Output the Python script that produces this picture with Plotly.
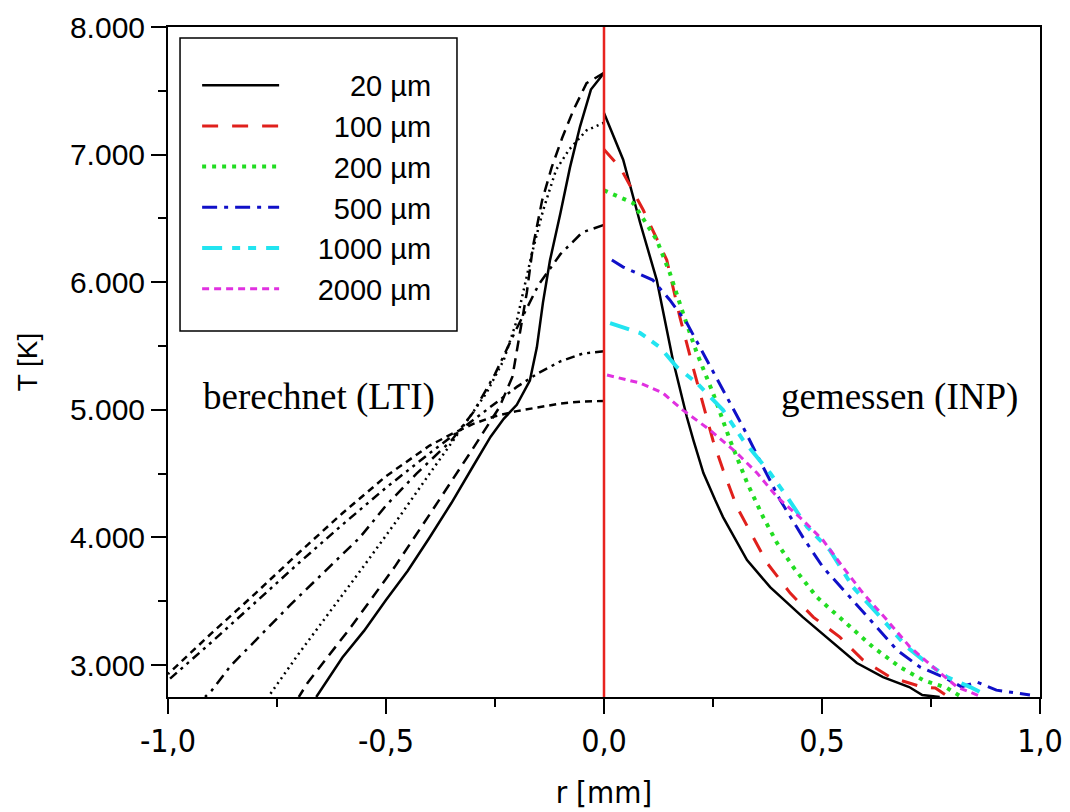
import plotly.graph_objects as go

# ---------------- data ----------------
# measured (INP), right half, r in mm, T in K
R_INP_20 = [0.0, 0.044, 0.083, 0.121, 0.158, 0.19, 0.205, 0.228, 0.255, 0.273, 0.328, 0.381, 0.456, 0.518, 0.58, 0.64, 0.70, 0.73, 0.77]
T_INP_20 = [7326, 6960, 6464, 6017, 5390, 4944, 4763, 4505, 4293, 4160, 3823, 3611, 3376, 3196, 3016, 2906, 2828, 2765, 2750]

R_INP_100 = [0.0, 0.037, 0.09, 0.144, 0.174, 0.204, 0.25, 0.273, 0.305, 0.342, 0.374, 0.427, 0.48, 0.541, 0.594, 0.656, 0.73, 0.76, 0.79]
T_INP_100 = [7040, 6900, 6566, 6174, 5727, 5335, 4760, 4530, 4238, 4003, 3800, 3564, 3376, 3219, 3039, 2906, 2828, 2820, 2750]

R_INP_200 = [0.0, 0.067, 0.121, 0.151, 0.181, 0.213, 0.25, 0.289, 0.328, 0.365, 0.397, 0.434, 0.488, 0.548, 0.617, 0.679, 0.732, 0.787, 0.82]
T_INP_200 = [6720, 6620, 6331, 6072, 5759, 5445, 5132, 4763, 4430, 4160, 3956, 3768, 3533, 3353, 3141, 2984, 2882, 2820, 2750]

R_INP_500 = [0.018, 0.044, 0.112, 0.151, 0.19, 0.227, 0.273, 0.319, 0.365, 0.404, 0.456, 0.502, 0.564, 0.617, 0.672, 0.725, 0.778, 0.82, 0.855, 0.90, 0.977]
T_INP_500 = [6174, 6119, 6017, 5861, 5680, 5445, 5155, 4865, 4552, 4293, 4003, 3768, 3533, 3329, 3118, 2984, 2906, 2830, 2867, 2804, 2765]

R_INP_1000 = [0.014, 0.083, 0.128, 0.167, 0.213, 0.273, 0.319, 0.381, 0.42, 0.466, 0.518, 0.571, 0.626, 0.695, 0.741, 0.787, 0.84, 0.88]
T_INP_1000 = [5680, 5602, 5492, 5335, 5210, 4998, 4763, 4505, 4317, 4082, 3901, 3611, 3407, 3141, 3016, 2906, 2828, 2760]

R_INP_2000 = [0.007, 0.083, 0.135, 0.181, 0.243, 0.305, 0.351, 0.397, 0.456, 0.502, 0.548, 0.594, 0.649, 0.702, 0.755, 0.81, 0.86]
T_INP_2000 = [5273, 5210, 5132, 4998, 4842, 4661, 4505, 4317, 4136, 3980, 3768, 3564, 3353, 3141, 2984, 2828, 2760]

# calculated (LTI), left half
R_LTI_20 = [0.0, -0.03, -0.055, -0.078, -0.10, -0.124, -0.14, -0.154, -0.17, -0.2, -0.23, -0.26, -0.3, -0.35, -0.4, -0.45, -0.5, -0.55, -0.6, -0.65, -0.66]
T_LTI_20 = [7640, 7510, 7220, 6900, 6540, 6170, 5840, 5490, 5230, 5040, 4930, 4790, 4560, 4270, 4000, 3740, 3510, 3270, 3060, 2810, 2750]

R_LTI_100 = [0.0, -0.04, -0.07, -0.096, -0.12, -0.142, -0.163, -0.177, -0.193, -0.21, -0.24, -0.3, -0.4, -0.48, -0.58, -0.68, -0.70]
T_LTI_100 = [7640, 7560, 7350, 7130, 6900, 6640, 6280, 5920, 5600, 5260, 5020, 4700, 4180, 3770, 3300, 2860, 2750]

R_LTI_200 = [0.0, -0.04, -0.08, -0.11, -0.14, -0.165, -0.2, -0.23, -0.27, -0.3, -0.35, -0.4, -0.48, -0.55, -0.62, -0.7, -0.76, -0.77]
T_LTI_200 = [7250, 7190, 7040, 6880, 6560, 6230, 5700, 5390, 5130, 4980, 4740, 4500, 4110, 3780, 3460, 3090, 2800, 2750]

R_LTI_500 = [0.0, -0.05, -0.1, -0.15, -0.2, -0.25, -0.3, -0.35, -0.43, -0.5, -0.56, -0.65, -0.72, -0.8, -0.855, -0.9, -0.915]
T_LTI_500 = [6450, 6390, 6220, 5980, 5640, 5280, 4980, 4760, 4500, 4250, 4000, 3700, 3470, 3190, 3000, 2800, 2750]

R_LTI_1000 = [0.0, -0.05, -0.1, -0.15, -0.2, -0.25, -0.3, -0.35, -0.4, -0.5, -0.6, -0.7, -0.8, -0.9, -1.0]
T_LTI_1000 = [5460, 5440, 5380, 5290, 5180, 5050, 4920, 4790, 4660, 4390, 4100, 3800, 3490, 3180, 2880]

R_LTI_2000 = [0.0, -0.05, -0.1, -0.15, -0.2, -0.25, -0.3, -0.35, -0.4, -0.5, -0.6, -0.7, -0.8, -0.9, -1.0]
T_LTI_2000 = [5070, 5065, 5050, 5020, 4990, 4950, 4890, 4810, 4720, 4480, 4190, 3880, 3560, 3250, 2930]

SERIES_LABELS = ["20 µm", "100 µm", "200 µm", "500 µm", "1000 µm", "2000 µm"]

X_TICKS = [-1.0, -0.5, 0.0, 0.5, 1.0]
X_TICK_TEXT = ["-1,0", "-0,5", "0,0", "0,5", "1,0"]
X_MINOR = [-0.75, -0.25, 0.25, 0.75]
Y_TICKS = [3000, 4000, 5000, 6000, 7000, 8000]
Y_TICK_TEXT = ["3.000", "4.000", "5.000", "6.000", "7.000", "8.000"]
Y_MINOR = [3500, 4500, 5500, 6500, 7500]

# ---------------- styles ----------------
inp = [
    (R_INP_20, T_INP_20, "#000000", "solid", 2.5),
    (R_INP_100, T_INP_100, "#e0201c", "16px,14px", 3),
    (R_INP_200, T_INP_200, "#22dd22", "4px,6px", 4),
    (R_INP_500, T_INP_500, "#1010c8", "15px,7px,4px,7px", 3),
    (R_INP_1000, T_INP_1000, "#22e4f0", "20px,10px,8px,8px,8px,10px", 4),
    (R_INP_2000, T_INP_2000, "#e030e0", "7px,5px", 3),
]
lti = [
    (R_LTI_20, T_LTI_20, "solid"),
    (R_LTI_100, T_LTI_100, "11px,7px"),
    (R_LTI_200, T_LTI_200, "2px,4px"),
    (R_LTI_500, T_LTI_500, "11px,6px,3px,6px"),
    (R_LTI_1000, T_LTI_1000, "9px,5px,3px,5px,3px,5px"),
    (R_LTI_2000, T_LTI_2000, "7px,5px"),
]

FS = "\u2007"  # figure space (digit width)
PAD = "\u2007\u2009\u2009\u2009"

fig = go.Figure()
for (r, t, dash) in lti:
    fig.add_trace(go.Scatter(x=r, y=t, mode="lines", showlegend=False,
                             line=dict(color="black", width=2.5, dash=dash)))

for i, (r, t, col, dash, w) in enumerate(inp):
    lab = SERIES_LABELS[i]
    ndig = len(lab.split(" ")[0])
    name = PAD + FS * (4 - ndig) + lab
    fig.add_trace(go.Scatter(x=r, y=t, mode="lines", name=name,
                             line=dict(color=col, width=w, dash=dash)))

# red centre line
fig.add_shape(type="line", xref="x", yref="paper", x0=0, x1=0, y0=0, y1=1,
              line=dict(color="#e8231f", width=2.5))
# legend frame
fig.add_shape(type="rect", xref="paper", yref="paper",
              x0=0.0138, x1=0.3314, y0=0.5463, y1=0.9836,
              line=dict(color="black", width=1.5), fillcolor="rgba(0,0,0,0)")

fig.add_annotation(x=-0.654, y=5100, text="berechnet (LTI)", showarrow=False,
                   font=dict(family="Liberation Serif, Times New Roman, serif", size=37, color="black"))
fig.add_annotation(x=0.677, y=5100, text="gemessen (INP)", showarrow=False,
                   font=dict(family="Liberation Serif, Times New Roman, serif", size=37, color="black"))

axis_common = dict(showline=True, linecolor="black", linewidth=2, mirror=True,
                   showgrid=False, zeroline=False, ticks="outside", tickcolor="black",
                   tickwidth=2, ticklen=15)

fig.update_xaxes(range=[-1, 1], tickmode="array", tickvals=X_TICKS, ticktext=X_TICK_TEXT,
                 minor=dict(tickmode="array", tickvals=X_MINOR, ticks="outside", ticklen=8,
                            tickwidth=2, tickcolor="black"),
                 tickfont=dict(family="Liberation Sans Narrow, DejaVu Sans Condensed, Arial", size=32, color="black"),
                 title=dict(text="r [mm]", standoff=22,
                            font=dict(family="Liberation Sans Narrow, DejaVu Sans Condensed, Arial", size=31, color="black")),
                 **axis_common)
fig.update_yaxes(range=[2750, 8000], tickmode="array", tickvals=Y_TICKS, ticktext=Y_TICK_TEXT,
                 minor=dict(tickmode="array", tickvals=Y_MINOR, ticks="outside", ticklen=8,
                            tickwidth=2, tickcolor="black"),
                 tickfont=dict(family="Liberation Sans, Arial", size=30, color="black"),
                 title=dict(text="T [K]", standoff=24,
                            font=dict(family="Liberation Sans, Arial", size=28, color="black")),
                 **axis_common)

fig.update_layout(
    width=1070, height=812,
    margin=dict(l=168, r=30, t=27, b=115, autoexpand=False),
    plot_bgcolor="white", paper_bgcolor="white",
    legend=dict(x=0.0334, y=0.951, xanchor="left", yanchor="top",
                bgcolor="rgba(0,0,0,0)", borderwidth=0, itemwidth=77,
                font=dict(family="Liberation Sans, Arial", size=29, color="black"),
                tracegroupgap=0),
)

fig.write_html("out.html")
